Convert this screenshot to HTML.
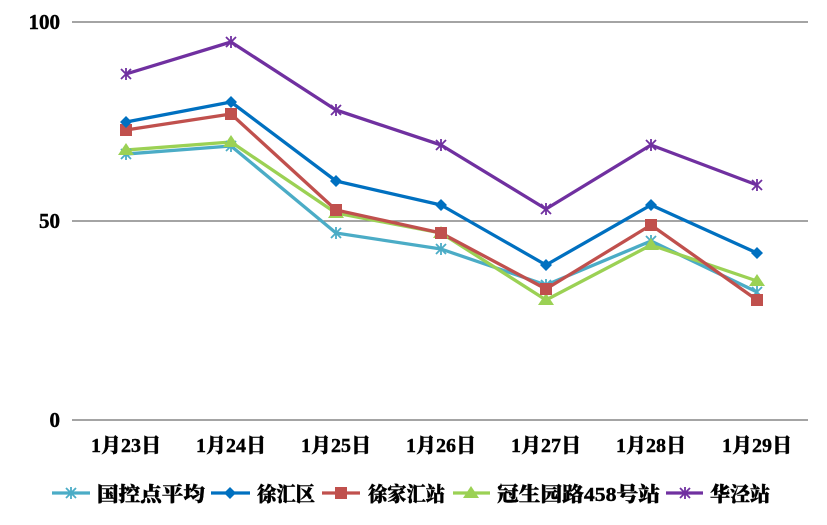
<!DOCTYPE html>
<html><head><meta charset="utf-8"><style>body{margin:0;background:#fff}svg{display:block}text{font-family:"Liberation Serif","Noto Serif CJK SC",serif;font-weight:900;stroke:#000;stroke-width:0.4}</style></head><body>
<svg width="827" height="525" viewBox="0 0 827 525">
<g stroke="#868686" stroke-width="1.5">
<line x1="72" y1="22" x2="808" y2="22"/><line x1="72" y1="221" x2="808" y2="221"/><line x1="72" y1="420" x2="808" y2="420"/>
</g>
<g font-size="21" text-anchor="end" fill="#000"><text x="60" y="29">100</text><text x="60" y="228">50</text><text x="60" y="427">0</text></g>
<g font-size="20" text-anchor="middle" fill="#000">
<text x="126" y="452">1月23日</text><text x="231" y="452">1月24日</text><text x="336" y="452">1月25日</text><text x="441" y="452">1月26日</text><text x="546" y="452">1月27日</text><text x="651" y="452">1月28日</text><text x="757" y="452">1月29日</text></g>
<g fill="none" stroke-width="3.3" stroke-linejoin="round">
<polyline stroke="#4bacc6" points="126,154 231,146 336,233 441,249 546,285 651,241 757,292"/>
<polyline stroke="#9bd154" points="126,150 231,142 336,213 441,233 546,300 651,245 757,281"/>
<polyline stroke="#c0504d" points="126,130 231,114 336,210 441,233 546,289 651,225 757,300"/>
<polyline stroke="#0070c0" points="126,122 231,102 336,181 441,205 546,265 651,205 757,253"/>
<polyline stroke="#7030a0" points="126,74 231,42 336,110 441,145 546,209 651,145 757,185"/>
</g>
<g stroke="#4bacc6" stroke-width="1.8">
<path d="M121,149l10,10M121,159l10,-10M126,148v12M226,141l10,10M226,151l10,-10M231,140v12M331,228l10,10M331,238l10,-10M336,227v12M436,244l10,10M436,254l10,-10M441,243v12M541,280l10,10M541,290l10,-10M546,279v12M646,236l10,10M646,246l10,-10M651,235v12M752,287l10,10M752,297l10,-10M757,286v12"/></g>
<g fill="#9bd154"><path d="M126,143l8,12h-16zM231,135l8,12h-16zM336,206l8,12h-16zM441,226l8,12h-16zM546,293l8,12h-16zM651,238l8,12h-16zM757,274l8,12h-16z"/></g>
<g fill="#c0504d"><rect x="120" y="124" width="12" height="12"/><rect x="225" y="108" width="12" height="12"/><rect x="330" y="204" width="12" height="12"/><rect x="435" y="227" width="12" height="12"/><rect x="540" y="283" width="12" height="12"/><rect x="645" y="219" width="12" height="12"/><rect x="751" y="294" width="12" height="12"/></g>
<g fill="#0070c0"><path d="M126,116l6,6l-6,6l-6,-6zM231,96l6,6l-6,6l-6,-6zM336,175l6,6l-6,6l-6,-6zM441,199l6,6l-6,6l-6,-6zM546,259l6,6l-6,6l-6,-6zM651,199l6,6l-6,6l-6,-6zM757,247l6,6l-6,6l-6,-6z"/></g>
<g stroke="#7030a0" stroke-width="1.8">
<path d="M121,69l10,10M121,79l10,-10M126,68v12M226,37l10,10M226,47l10,-10M231,36v12M331,105l10,10M331,115l10,-10M336,104v12M436,140l10,10M436,150l10,-10M441,139v12M541,204l10,10M541,214l10,-10M546,203v12M646,140l10,10M646,150l10,-10M651,139v12M752,180l10,10M752,190l10,-10M757,179v12"/></g>
<g stroke-width="3.3">
<line x1="52" y1="493" x2="90" y2="493" stroke="#4bacc6"/><line x1="211" y1="493" x2="250" y2="493" stroke="#0070c0"/><line x1="322" y1="493" x2="360" y2="493" stroke="#c0504d"/><line x1="453" y1="493" x2="490" y2="493" stroke="#9bd154"/><line x1="666" y1="493" x2="703" y2="493" stroke="#7030a0"/></g>
<path d="M66,488l10,10M66,498l10,-10M71,487v12" stroke="#4bacc6" stroke-width="1.8"/>
<path d="M230,487l6,6l-6,6l-6,-6z" fill="#0070c0"/>
<rect x="335" y="487" width="12" height="12" fill="#c0504d"/>
<path d="M471,486l8,12h-16z" fill="#9bd154"/>
<path d="M680,488l10,10M680,498l10,-10M685,487v12" stroke="#7030a0" stroke-width="1.8"/>
<g font-size="20" fill="#000"><text x="97" y="501" textLength="108" lengthAdjust="spacingAndGlyphs">国控点平均</text><text x="257" y="501" textLength="58" lengthAdjust="spacingAndGlyphs">徐汇区</text><text x="368" y="501" textLength="77" lengthAdjust="spacingAndGlyphs">徐家汇站</text><text x="497" y="501" textLength="163" lengthAdjust="spacingAndGlyphs">冠生园路458号站</text><text x="710" y="501" textLength="60" lengthAdjust="spacingAndGlyphs">华泾站</text></g>
</svg>
</body></html>
